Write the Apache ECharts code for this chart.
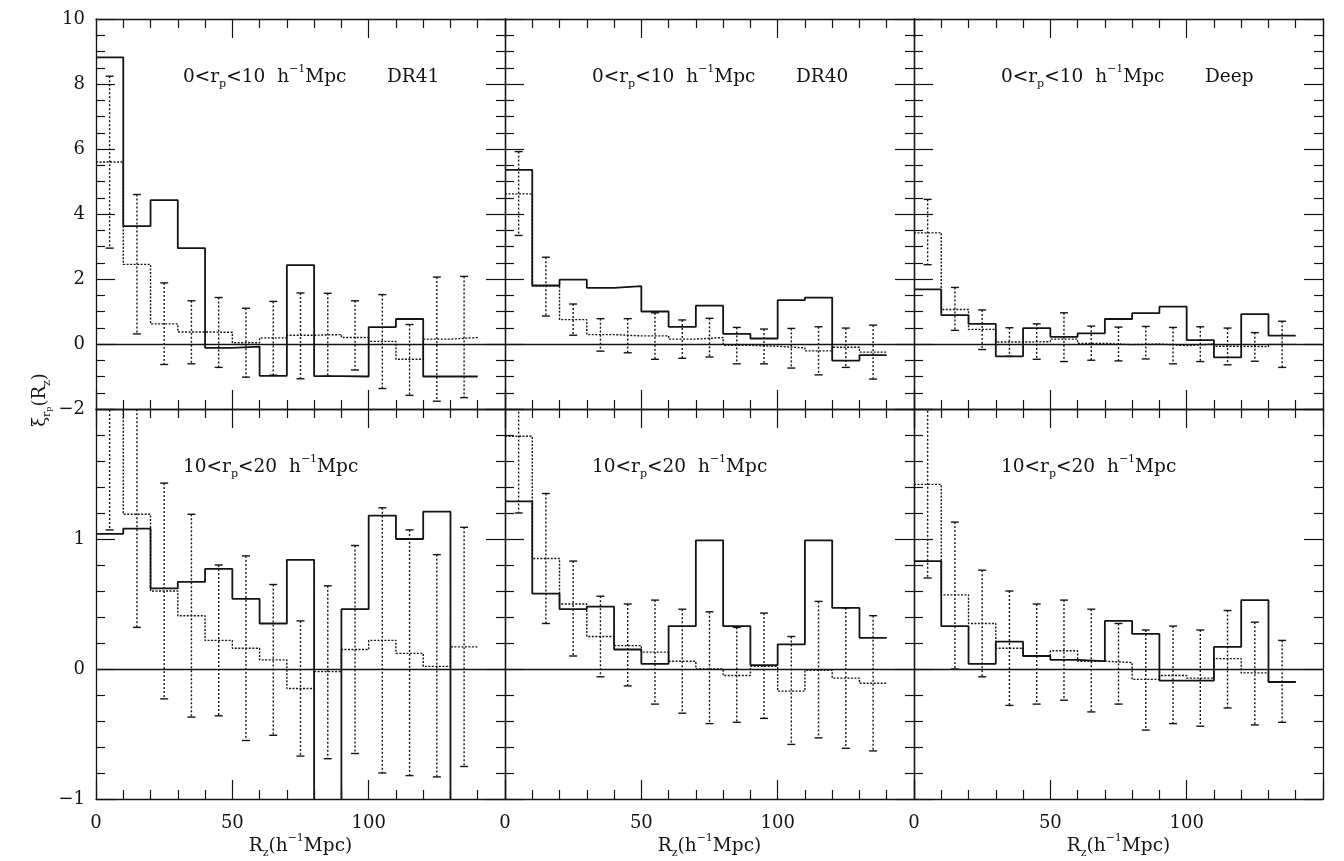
<!DOCTYPE html>
<html>
<head>
<meta charset="utf-8">
<script src="https://cdn.jsdelivr.net/npm/echarts@6/dist/echarts.min.js"></script>
<style>
  html, body { margin: 0; padding: 0; background: #fff; }
  #chart { width: 1344px; height: 861px; }
</style>
</head>
<body>
<div id="chart"></div>
<script>
// Bin edges and centres along R_z (h^-1 Mpc), 10 Mpc bins.
const binEdges = [0, 10, 20, 30, 40, 50, 60, 70, 80, 90, 100, 110, 120, 130, 140];
const binCenters = [5, 15, 25, 35, 45, 55, 65, 75, 85, 95, 105, 115, 125, 135];

// Tick labels
const xTickLabels = [0, 50, 100];
const yTickLabelsTop = [-2, 0, 2, 4, 6, 8, 10];
const yTickLabelsBottom = [-1, 0, 1];

// 0 < r_p < 10 h^-1 Mpc, DR41
const dr41Near = [8.82, 3.63, 4.43, 2.95, -0.12, -0.08, -0.98, 2.43, -0.99, -1.0, 0.52, 0.77, -1.0, -1.0];
const dr41NearMock = [5.6, 2.45, 0.62, 0.37, 0.36, 0.04, 0.19, 0.27, 0.29, 0.2, 0.08, -0.47, 0.15, 0.2];
const dr41NearHi = [8.24, 4.6, 1.88, 1.33, 1.43, 1.1, 1.31, 1.57, 1.56, 1.33, 1.52, 0.6, 2.06, 2.08];
const dr41NearLo = [2.95, 0.31, -0.63, -0.61, -0.72, -1.02, -0.96, -1.07, -0.99, -0.8, -1.37, -1.58, -1.76, -1.65];

// 0 < r_p < 10 h^-1 Mpc, DR40
const dr40Near = [5.36, 1.8, 1.98, 1.73, 1.78, 1.0, 0.53, 1.18, 0.31, 0.17, 1.35, 1.43, -0.51, -0.34];
const dr40NearMock = [4.62, 1.78, 0.75, 0.29, 0.25, 0.25, 0.15, 0.2, -0.04, -0.07, -0.12, -0.21, -0.1, -0.25];
const dr40NearHi = [5.92, 2.67, 1.23, 0.78, 0.78, 0.96, 0.74, 0.79, 0.51, 0.46, 0.48, 0.53, 0.49, 0.58];
const dr40NearLo = [3.34, 0.86, 0.27, -0.22, -0.27, -0.47, -0.44, -0.4, -0.61, -0.61, -0.74, -0.95, -0.72, -1.08];

// 0 < r_p < 10 h^-1 Mpc, Deep
const deepNear = [1.68, 0.89, 0.62, -0.38, 0.49, 0.22, 0.33, 0.77, 0.95, 1.15, 0.12, -0.41, 0.92, 0.26];
const deepNearMock = [3.42, 1.06, 0.45, 0.06, 0.07, 0.15, 0.02, -0.02, 0.0, -0.05, 0.0, -0.07, -0.08, -0.01];
const deepNearHi = [4.45, 1.74, 1.05, 0.5, 0.62, 0.96, 0.55, 0.52, 0.54, 0.51, 0.53, 0.49, 0.35, 0.7];
const deepNearLo = [2.44, 0.42, -0.17, -0.38, -0.47, -0.54, -0.5, -0.52, -0.46, -0.61, -0.54, -0.64, -0.53, -0.72];

// 10 < r_p < 20 h^-1 Mpc, DR41
const dr41Far = [1.04, 1.08, 0.62, 0.67, 0.77, 0.54, 0.35, 0.84, -1.3, 0.46, 1.18, 1.0, 1.21, -1.3];
const dr41FarMock = [2.7, 1.19, 0.6, 0.41, 0.22, 0.16, 0.07, -0.15, -0.02, 0.15, 0.22, 0.12, 0.02, 0.17];
const dr41FarHi = [4.3, 2.06, 1.43, 1.19, 0.8, 0.87, 0.65, 0.37, 0.64, 0.95, 1.24, 1.07, 0.88, 1.09];
const dr41FarLo = [1.07, 0.32, -0.23, -0.37, -0.36, -0.55, -0.51, -0.67, -0.69, -0.65, -0.8, -0.82, -0.83, -0.75];

// 10 < r_p < 20 h^-1 Mpc, DR40
const dr40Far = [1.29, 0.58, 0.46, 0.48, 0.15, 0.04, 0.33, 0.99, 0.33, 0.03, 0.19, 0.99, 0.47, 0.24];
const dr40FarMock = [1.79, 0.85, 0.5, 0.25, 0.18, 0.13, 0.06, 0.0, -0.05, 0.02, -0.17, -0.01, -0.07, -0.11];
const dr40FarHi = [2.38, 1.35, 0.83, 0.56, 0.5, 0.53, 0.46, 0.44, 0.32, 0.43, 0.25, 0.52, 0.47, 0.41];
const dr40FarLo = [1.2, 0.35, 0.1, -0.06, -0.13, -0.27, -0.34, -0.42, -0.41, -0.38, -0.58, -0.53, -0.61, -0.63];

// 10 < r_p < 20 h^-1 Mpc, Deep
const deepFar = [0.83, 0.33, 0.04, 0.21, 0.1, 0.07, 0.06, 0.37, 0.27, -0.09, -0.09, 0.17, 0.53, -0.1];
const deepFarMock = [1.42, 0.57, 0.35, 0.16, 0.1, 0.14, 0.06, 0.05, -0.08, -0.05, -0.07, 0.08, -0.03, -0.1];
const deepFarHi = [2.14, 1.13, 0.76, 0.6, 0.5, 0.53, 0.46, 0.35, 0.3, 0.33, 0.3, 0.45, 0.36, 0.22];
const deepFarLo = [0.7, 0.0, -0.06, -0.28, -0.27, -0.24, -0.33, -0.27, -0.47, -0.42, -0.44, -0.3, -0.43, -0.41];

const panels = [
  { row: 0, col: 0, obs: dr41Near, mock: dr41NearMock, hi: dr41NearHi, lo: dr41NearLo, tag: 'DR41' },
  { row: 0, col: 1, obs: dr40Near, mock: dr40NearMock, hi: dr40NearHi, lo: dr40NearLo, tag: 'DR40' },
  { row: 0, col: 2, obs: deepNear, mock: deepNearMock, hi: deepNearHi, lo: deepNearLo, tag: 'Deep' },
  { row: 1, col: 0, obs: dr41Far, mock: dr41FarMock, hi: dr41FarHi, lo: dr41FarLo, tag: '' },
  { row: 1, col: 1, obs: dr40Far, mock: dr40FarMock, hi: dr40FarHi, lo: dr40FarLo, tag: '' },
  { row: 1, col: 2, obs: deepFar, mock: deepFarMock, hi: deepFarHi, lo: deepFarLo, tag: '' }
];

const rowRanges = [
  { min: -2, max: 10, interval: 2, minor: 4, labels: yTickLabelsTop,
    caption: '{t|0<r}{sub|p}{t|<10}{gap|h}{sup|\u22121}{t|Mpc}' },
  { min: -1, max: 2, interval: 1, minor: 5, labels: yTickLabelsBottom,
    caption: '{t|10<r}{sub|p}{t|<20}{gap|h}{sup|\u22121}{t|Mpc}' }
];

const FONT = 'DejaVu Serif';
const INK = '#141414';
const colLeft = [96, 505, 914];
const rowTop = [19, 409];
const panelW = 409;
const panelH = 390;

const richText = {
  t: { fontFamily: FONT, fontSize: 18.5, fontWeight: 'normal', color: INK, lineHeight: 26 },
  gap: { fontFamily: FONT, fontSize: 18.5, fontWeight: 'normal', color: INK, lineHeight: 26, padding: [0, 0, 0, 12] },
  sub: { fontFamily: FONT, fontSize: 11, fontWeight: 'normal', color: INK, lineHeight: 11, verticalAlign: 'bottom' },
  sup: { fontFamily: FONT, fontSize: 11, fontWeight: 'normal', color: INK, lineHeight: 11, verticalAlign: 'top' }
};

const minus = v => String(v).replace('-', '\u2212');

function axisCommon() {
  return {
    axisLine: { show: true, onZero: false, lineStyle: { color: INK, width: 1.3 } },
    axisTick: { show: true, inside: true, length: 19, lineStyle: { color: INK, width: 1.2 } },
    minorSplitLine: { show: false },
    splitLine: { show: false }
  };
}

const grids = [], xAxes = [], yAxes = [], series = [], titles = [];

panels.forEach((p, gi) => {
  const r = rowRanges[p.row];
  grids.push({ left: colLeft[p.col], top: rowTop[p.row], width: panelW, height: panelH, containLabel: false });

  ['bottom', 'top'].forEach(pos => {
    const showLab = pos === 'bottom' && p.row === 1;
    xAxes.push(Object.assign(axisCommon(), {
      type: 'value', gridIndex: gi, position: pos, min: 0, max: 150, interval: 50,
      minorTick: { show: true, splitNumber: 5, length: 9, lineStyle: { color: INK, width: 1.2 } },
      axisLabel: {
        show: showLab, margin: 15, fontFamily: FONT, fontSize: 18, color: INK,
        formatter: v => xTickLabels.includes(v) ? String(v) : ''
      },
      name: showLab ? '{t|R}{sub|z}{t|(h}{sup|\u22121}{t|Mpc)}' : '',
      nameLocation: 'middle', nameGap: 30,
      nameTextStyle: { rich: richText }
    }));
  });

  ['left', 'right'].forEach(pos => {
    const showLab = pos === 'left' && p.col === 0;
    yAxes.push(Object.assign(axisCommon(), {
      type: 'value', gridIndex: gi, position: pos, min: r.min, max: r.max, interval: r.interval,
      minorTick: { show: true, splitNumber: r.minor, length: 9, lineStyle: { color: INK, width: 1.2 } },
      axisLabel: {
        show: showLab, margin: 11, fontFamily: FONT, fontSize: 18, color: INK,
        formatter: v => r.labels.includes(v) ? minus(v) : ''
      }
    }));
  });

  const xi = gi * 2, yi = gi * 2;
  const stepData = vals => binEdges.map((e, i) => [e, vals[Math.min(i, vals.length - 1)]]);

  // observed correlation: solid steps, with the zero reference line
  series.push({
    type: 'line', xAxisIndex: xi, yAxisIndex: yi, step: 'end', clip: true,
    showSymbol: false, symbol: 'none', silent: true,
    data: stepData(p.obs),
    lineStyle: { color: INK, width: 1.8 },
    markLine: {
      silent: true, symbol: ['none', 'none'], label: { show: false }, animation: false,
      lineStyle: { color: INK, width: 1.3, type: 'solid' },
      data: [{ yAxis: 0 }]
    }
  });
  // mock average: dotted steps
  series.push({
    type: 'line', xAxisIndex: xi, yAxisIndex: yi, step: 'end', clip: true,
    showSymbol: false, symbol: 'none', silent: true,
    data: stepData(p.mock),
    lineStyle: { color: INK, width: 1.4, type: [2, 1.5] }
  });
  // dispersion bars: dotted stems with solid caps
  series.push({
    type: 'custom', xAxisIndex: xi, yAxisIndex: yi, clip: true, silent: true,
    data: binCenters.map((c, i) => [c, p.lo[i], p.hi[i]]),
    encode: { x: 0, y: [1, 2] },
    renderItem: (params, api) => {
      const x = api.value(0);
      const top = api.coord([x, api.value(2)]);
      const bot = api.coord([x, api.value(1)]);
      const cap = 4;
      const solid = { stroke: INK, lineWidth: 1.4 };
      return {
        type: 'group',
        children: [
          { type: 'line', shape: { x1: top[0], y1: top[1], x2: bot[0], y2: bot[1] },
            style: { stroke: INK, lineWidth: 1.4, lineDash: [2, 2] } },
          { type: 'line', shape: { x1: top[0] - cap, y1: top[1], x2: top[0] + cap, y2: top[1] }, style: solid },
          { type: 'line', shape: { x1: bot[0] - cap, y1: bot[1], x2: bot[0] + cap, y2: bot[1] }, style: solid }
        ]
      };
    }
  });

  titles.push({
    text: r.caption, left: colLeft[p.col] + 87, top: rowTop[p.row] + 45, padding: 0,
    textStyle: { fontWeight: 'normal', rich: richText }
  });
  if (p.tag) {
    titles.push({
      text: '{t|' + p.tag + '}', left: colLeft[p.col] + 291, top: rowTop[p.row] + 45, padding: 0,
      textStyle: { fontWeight: 'normal', rich: richText }
    });
  }
});

const chart = echarts.init(document.getElementById('chart'), null, { renderer: 'canvas' });
chart.setOption({
  backgroundColor: '#ffffff',
  animation: false,
  title: titles,
  grid: grids,
  xAxis: xAxes,
  yAxis: yAxes,
  series: series,
  graphic: [{
    type: 'text', x: 40, y: 400, rotation: Math.PI / 2,
    style: {
      text: '{t|\u03be}{s|r}{ss|p}{t|(R}{s|z}{t|)}',
      align: 'center', verticalAlign: 'middle',
      rich: {
        t: { fontFamily: FONT, fontSize: 18, fill: INK, lineHeight: 26 },
        s: { fontFamily: FONT, fontSize: 11, fill: INK, lineHeight: 14, verticalAlign: 'bottom' },
        ss: { fontFamily: FONT, fontSize: 8, fill: INK, lineHeight: 8, verticalAlign: 'bottom' }
      }
    }
  }]
});
</script>
</body>
</html>
